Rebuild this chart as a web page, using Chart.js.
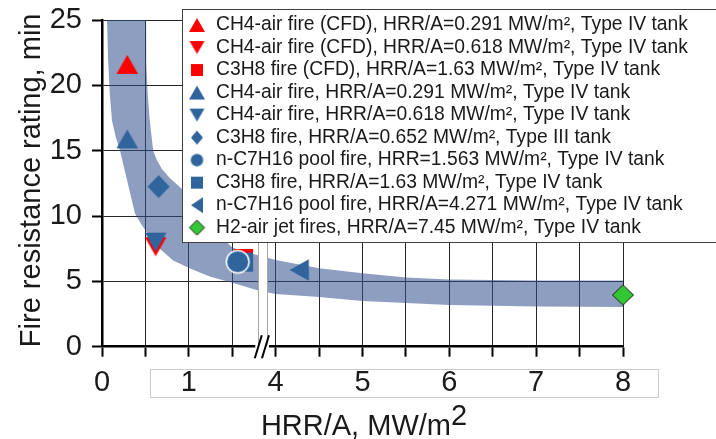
<!DOCTYPE html>
<html>
<head>
<meta charset="utf-8">
<script src="https://cdn.jsdelivr.net/npm/chart.js@4.4.1/dist/chart.umd.min.js"></script>
<style>
  html, body { margin: 0; padding: 0; background: #fff; }
  #wrap { position: relative; width: 716px; height: 439px; }
</style>
</head>
<body>
<div id="wrap"><canvas id="chart"></canvas></div>
<script>
// x axis is broken: 0..1.5 then 4..8 MW/m2
const xTickValues = [0, 0.5, 1, 1.5, 4, 4.5, 5, 5.5, 6, 6.5, 7, 7.5, 8];
const xTickLabels = ["0", "", "1", "", "4", "", "5", "", "6", "", "7", "", "8"];
const yTicks = [0, 5, 10, 15, 20, 25];

const seriesNames = [
  "CH4-air fire (CFD), HRR/A=0.291 MW/m², Type IV tank",
  "CH4-air fire (CFD), HRR/A=0.618 MW/m², Type IV tank",
  "C3H8 fire (CFD), HRR/A=1.63 MW/m², Type IV tank",
  "CH4-air fire, HRR/A=0.291 MW/m², Type IV tank",
  "CH4-air fire, HRR/A=0.618 MW/m², Type IV tank",
  "C3H8 fire, HRR/A=0.652 MW/m², Type III tank",
  "n-C7H16 pool fire, HRR=1.563 MW/m², Type IV tank",
  "C3H8 fire, HRR/A=1.63 MW/m², Type IV tank",
  "n-C7H16 pool fire, HRR/A=4.271 MW/m², Type IV tank",
  "H2-air jet fires, HRR/A=7.45 MW/m², Type IV tank"
];
const seriesX = [0.291, 0.618, 1.63, 0.291, 0.618, 0.652, 1.563, 1.63, 4.271, 8];
const seriesY = [21.6, 7.65, 6.75, 15.9, 8.0, 12.25, 6.5, 6.47, 5.87, 3.96];
const seriesShapes = ["up", "down", "square", "up", "down", "diamond", "circle", "square", "left", "diamond"];

// trend band, outer and inner edge
const bandUpperX = [0.507, 0.507, 0.515, 0.53, 0.55, 0.59, 0.63, 0.69, 0.78, 0.9, 1.0, 1.15, 1.3, 1.5, 1.65, 1.8, 4.0, 4.5, 5.0, 5.5, 6.0, 7.0, 8.0];
const bandUpperY = [26.5, 25, 21.5, 19, 17.3, 15.0, 14.3, 13.6, 12.9, 12.2, 11.5, 10.0, 8.9, 7.6, 7.25, 7.0, 6.63, 6.0, 5.62, 5.3, 5.15, 5.07, 5.07];
const bandLowerX = [0.05, 0.058, 0.07, 0.09, 0.115, 0.16, 0.208, 0.25, 0.29, 0.34, 0.38, 0.44, 0.5, 0.65, 0.82, 1.04, 1.25, 1.51, 1.8, 4.0, 4.5, 5.0, 5.5, 6.0, 7.0, 8.0];
const bandLowerY = [26.5, 25, 22, 19.3, 17.3, 16.0, 15.0, 13.8, 12.7, 11.3, 10.2, 9.5, 8.9, 7.6, 6.6, 5.9, 5.35, 4.87, 4.3, 4.03, 3.8, 3.5, 3.34, 3.2, 3.07, 3.04];

const RED = "#ff0000", BLUE = "#2f659c", GREEN = "#33c833";
const FONT = "'Liberation Sans', Arial, sans-serif";
const BREAK_FROM = 1.80, BREAK_TO = 1.90; // axis units

const toAxis = x => (x < 3 ? x : x - 2);

const seriesColor = i => (i < 3 ? RED : i === 9 ? GREEN : BLUE);
const seriesLayer = i => (i < 3 ? 3 : (i === 6 || i === 9) ? 1 : 2);

function markerCanvas(shape, w, h, fill, stroke, lw) {
  const pad = 2;
  const c = document.createElement("canvas");
  c.width = Math.ceil(w + 2 * pad);
  c.height = Math.ceil(h + 2 * pad);
  const g = c.getContext("2d");
  const cx = c.width / 2, cy = c.height / 2, hw = w / 2, hh = h / 2;
  g.beginPath();
  if (shape === "up") { g.moveTo(cx, cy - hh); g.lineTo(cx + hw, cy + hh); g.lineTo(cx - hw, cy + hh); }
  else if (shape === "down") { g.moveTo(cx - hw, cy - hh); g.lineTo(cx + hw, cy - hh); g.lineTo(cx, cy + hh); }
  else if (shape === "left") { g.moveTo(cx - hw, cy); g.lineTo(cx + hw, cy - hh); g.lineTo(cx + hw, cy + hh); }
  else if (shape === "square") g.rect(cx - hw, cy - hh, w, h);
  else if (shape === "diamond") { g.moveTo(cx, cy - hh); g.lineTo(cx + hw, cy); g.lineTo(cx, cy + hh); g.lineTo(cx - hw, cy); }
  else if (shape === "circle") g.ellipse(cx, cy, hw, hh, 0, 0, Math.PI * 2);
  g.closePath();
  g.fillStyle = fill;
  g.fill();
  if (stroke) { g.lineWidth = lw; g.strokeStyle = stroke; g.stroke(); }
  return c;
}

const bigSize = { up: [21.6, 19], down: [21.6, 19], left: [19.3, 21.4], square: [19, 19], diamond: [22, 23], circle: [22.6, 22.6] };
const smallSize = { up: [16, 14], down: [15, 13], left: [12, 16], square: [12, 12], diamond: [12, 14], circle: [12.5, 12.5] };

function markerFor(i, sizes) {
  const shape = seriesShapes[i];
  const big = sizes === bigSize;
  const [w, h] = sizes[shape];
  if (i === 9) return markerCanvas(shape, big ? 21 : 15, big ? 20 : 15, GREEN, "#1a1a1a", 1);
  if (shape === "circle") return markerCanvas(shape, w, h, BLUE, big ? "#ffffff" : null, 1.5);
  return markerCanvas(shape, w, h, seriesColor(i));
}
const bigMarkers = seriesNames.map((_, i) => markerFor(i, bigSize));
const smallMarkers = seriesNames.map((_, i) => markerFor(i, smallSize));

const markerSets = seriesNames.map((name, i) => ({
  label: name,
  data: [{ x: toAxis(seriesX[i]), y: seriesY[i] }],
  showLine: false,
  pointStyle: bigMarkers[i],
  pointRadius: 12,
  pointHoverRadius: 12,
  order: seriesLayer(i),
  clip: false
}));

const bandPoints = bandUpperX.map((x, i) => ({ x: toAxis(x), y: bandUpperY[i] }))
  .concat(bandLowerX.map((x, i) => ({ x: toAxis(x), y: bandLowerY[i] })).reverse());

// translucent so the grid shows through it
const bandSet = {
  label: "band",
  data: bandPoints,
  borderWidth: 0,
  pointRadius: 0,
  tension: 0,
  fill: "shape",
  backgroundColor: "rgba(50,79,140,0.55)",
  order: 10
};

function crisp(v) { return Math.round(v) + 0.5; }

const decorations = {
  id: "decorations",
  afterDatasetsDraw(chart) {
    // axis break strip and // marks
    const { ctx, chartArea: a, scales: { x } } = chart;
    const xa = x.getPixelForValue(BREAK_FROM), xb = x.getPixelForValue(BREAK_TO);
    ctx.save();
    ctx.fillStyle = "#fff";
    ctx.fillRect(xa, a.top, xb - xa, a.bottom - a.top + 3);
    ctx.fillRect(xa - 3, a.bottom - 3, xb - xa + 5, 6);
    ctx.strokeStyle = "#a8a8a8";
    ctx.lineWidth = 1;
    ctx.beginPath();
    ctx.moveTo(crisp(xa), a.top); ctx.lineTo(crisp(xa), a.bottom - 2);
    ctx.moveTo(crisp(xb), a.top); ctx.lineTo(crisp(xb), a.bottom - 2);
    ctx.stroke();
    ctx.strokeStyle = "#000";
    ctx.lineWidth = 2;
    ctx.beginPath();
    [xa, xb - 1.5].forEach(px => {
      ctx.moveTo(px - 3.5, a.bottom + 11.5);
      ctx.lineTo(px + 3.5, a.bottom - 11.5);
    });
    ctx.stroke();
    ctx.restore();
  },
  afterDraw(chart) {
    const { ctx, chartArea: a, scales: { x } } = chart;
    ctx.save();

    // frame round the tick labels
    const bx0 = x.getPixelForValue(0.55), bx1 = x.getPixelForValue(6.4);
    ctx.strokeStyle = "#cccccc";
    ctx.lineWidth = 1;
    ctx.strokeRect(crisp(bx0), crisp(a.bottom + 22), Math.round(bx1 - bx0), 28);

    // axis titles
    ctx.fillStyle = "#1a1a1a";
    ctx.font = "29px " + FONT;
    ctx.textBaseline = "alphabetic";
    ctx.textAlign = "left";
    const t1 = "HRR/A, MW/m", t2 = "2";
    const w1 = ctx.measureText(t1).width, w2 = ctx.measureText(t2).width;
    const tx = (a.left + a.right) / 2 + 1.5 - (w1 + w2) / 2;
    ctx.fillText(t1, tx, 435);
    ctx.fillText(t2, tx + w1, 425);

    ctx.save();
    ctx.translate(40, (a.top + a.bottom) / 2 - 3);
    ctx.rotate(-Math.PI / 2);
    ctx.textAlign = "center";
    ctx.fillText("Fire resistance rating, min", 0, 0);
    ctx.restore();

    // legend box over the plot
    ctx.fillStyle = "#fff";
    ctx.fillRect(182, 9, 560, 234);
    ctx.strokeStyle = "#404040";
    ctx.lineWidth = 1;
    ctx.strokeRect(182.5, 9.5, 560, 233);
    ctx.font = "19.3px " + FONT;
    ctx.textBaseline = "middle";
    ctx.textAlign = "left";
    ctx.fillStyle = "#1a1a1a";
    seriesNames.forEach((name, i) => {
      const ry = 25 + i * 22.52;
      const m = smallMarkers[i];
      ctx.drawImage(m, 197 - m.width / 2, ry - m.height / 2);
      ctx.fillText(name, 216, ry);
    });
    ctx.restore();
  }
};

Chart.defaults.font.family = FONT;

new Chart(document.getElementById("chart").getContext("2d"), {
  type: "line",
  data: { datasets: [...markerSets, bandSet] },
  options: {
    responsive: true,
    maintainAspectRatio: false,
    animation: false,
    events: [],
    layout: { padding: { top: 20, right: 93, left: 0, bottom: 0 } },
    plugins: { legend: { display: false }, tooltip: { enabled: false } },
    scales: {
      x: {
        type: "linear",
        min: 0,
        max: 6,
        afterBuildTicks: s => { s.ticks = xTickValues.map(v => ({ value: toAxis(v) })); },
        afterFit: s => { s.height = 92.3; s.paddingLeft = 0; s.paddingRight = 0; },
        ticks: { autoSkip: false, maxRotation: 0, padding: 9, color: "#1a1a1a", font: { size: 29 }, callback: (v, i) => xTickLabels[i] },
        grid: { color: "#262626", lineWidth: 1, tickLength: 10, tickColor: "#000", tickWidth: 2 },
        border: { color: "#000", width: 2.5 }
      },
      y: {
        type: "linear",
        min: 0,
        max: 25,
        afterBuildTicks: s => { s.ticks = yTicks.map(v => ({ value: v })); },
        afterFit: s => { s.width = 102; s.paddingTop = 0; s.paddingBottom = 0; },
        ticks: { padding: 10, color: "#1a1a1a", font: { size: 29 } },
        grid: { color: "#262626", lineWidth: 1, tickLength: 10, tickColor: "#000", tickWidth: 2 },
        border: { color: "#000", width: 2.5 }
      }
    }
  },
  plugins: [decorations]
});
</script>
</body>
</html>
